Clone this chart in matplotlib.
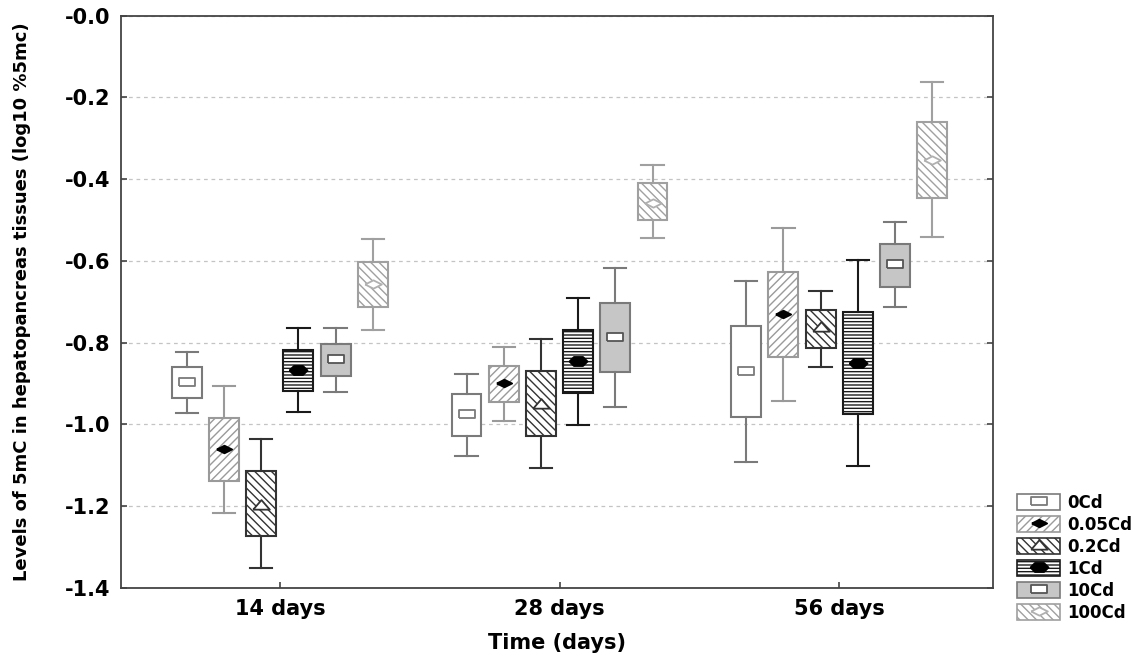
import matplotlib
matplotlib.use('Agg')
import matplotlib.pyplot as plt
from matplotlib.patches import Patch
from matplotlib.lines import Line2D

plt.rcParams['font.family'] = ['DejaVu Sans']
plt.rcParams['font.weight'] = 'bold'
plt.rcParams['hatch.linewidth'] = 1.0

# data (log10 %5mC)
days = ['14 days', '28 days', '56 days']
groups = ['0Cd', '0.05Cd', '0.2Cd', '1Cd', '10Cd', '100Cd']

med = {
    '0Cd':    [-0.897, -0.975, -0.868],
    '0.05Cd': [-1.061, -0.899, -0.730],
    '0.2Cd':  [-1.197, -0.951, -0.762],
    '1Cd':    [-0.867, -0.845, -0.850],
    '10Cd':   [-0.840, -0.787, -0.608],
    '100Cd':  [-0.656, -0.457, -0.353],
}
q1 = {
    '0Cd':    [-0.935, -1.027, -0.982],
    '0.05Cd': [-1.138, -0.946, -0.836],
    '0.2Cd':  [-1.273, -1.027, -0.814],
    '1Cd':    [-0.918, -0.923, -0.975],
    '10Cd':   [-0.881, -0.872, -0.663],
    '100Cd':  [-0.713, -0.500, -0.446],
}
q3 = {
    '0Cd':    [-0.859, -0.926, -0.758],
    '0.05Cd': [-0.985, -0.856, -0.626],
    '0.2Cd':  [-1.113, -0.870, -0.721],
    '1Cd':    [-0.818, -0.770, -0.724],
    '10Cd':   [-0.803, -0.702, -0.559],
    '100Cd':  [-0.602, -0.410, -0.259],
}
lo = {
    '0Cd':    [-0.973, -1.077, -1.091],
    '0.05Cd': [-1.217, -0.991, -0.943],
    '0.2Cd':  [-1.352, -1.106, -0.859],
    '1Cd':    [-0.969, -1.001, -1.101],
    '10Cd':   [-0.921, -0.957, -0.713],
    '100Cd':  [-0.769, -0.545, -0.541],
}
hi = {
    '0Cd':    [-0.822, -0.876, -0.649],
    '0.05Cd': [-0.906, -0.811, -0.520],
    '0.2Cd':  [-1.036, -0.792, -0.674],
    '1Cd':    [-0.764, -0.691, -0.598],
    '10Cd':   [-0.764, -0.618, -0.505],
    '100Cd':  [-0.546, -0.365, -0.163],
}

yticks = [0.0, -0.2, -0.4, -0.6, -0.8, -1.0, -1.2, -1.4]
ytick_labels = ['-0.0', '-0.2', '-0.4', '-0.6', '-0.8', '-1.0', '-1.2', '-1.4']

# marker shapes
rect = [(-1, -0.45), (1, -0.45), (1, 0.45), (-1, 0.45), (-1, -0.45)]
diam = [(-1, 0), (0, 0.5), (1, 0), (0, -0.5), (-1, 0)]
tri = [(-1, -0.5), (1, -0.5), (0, 0.65), (-1, -0.5)]
hexa = [(-1, 0), (-0.5, 0.5), (0.5, 0.5), (1, 0), (0.5, -0.5), (-0.5, -0.5), (-1, 0)]

# style per group: face, edge/hatch colour, hatch, marker, marker size, marker face, marker edge
styles = {
    '0Cd':    dict(fc='white', ec='#7a7a7a', hatch=None, m=rect, ms=12, mfc='white', mec='#7a7a7a'),
    '0.05Cd': dict(fc='white', ec='#9a9a9a', hatch='////', m=diam, ms=11, mfc='black', mec='black'),
    '0.2Cd':  dict(fc='white', ec='#333333', hatch='\\\\\\\\', m=tri, ms=12, mfc='white', mec='#333333'),
    '1Cd':    dict(fc='white', ec='#1a1a1a', hatch='-----', m=hexa, ms=13, mfc='black', mec='black'),
    '10Cd':   dict(fc='#c6c6c6', ec='#7a7a7a', hatch=None, m=rect, ms=12, mfc='white', mec='#555555'),
    '100Cd':  dict(fc='white', ec='#a0a0a0', hatch='\\\\\\\\', m=diam, ms=12, mfc='white', mec='#b0b0b0'),
}

fig = plt.figure(figsize=(11.43, 6.58), dpi=100)
ax = fig.add_axes([121 / 1143, 1 - 588 / 658, 872 / 1143, 572.3 / 658])

step = 0.133
width = 0.107
handles = []
for i, g in enumerate(groups):
    s = styles[g]
    pos = [d + 1 + (i - 2.5) * step for d in range(len(days))]
    stats = [dict(med=med[g][k], q1=q1[g][k], q3=q3[g][k],
                  whislo=lo[g][k], whishi=hi[g][k], fliers=[])
             for k in range(len(days))]
    bp = ax.bxp(stats, positions=pos, widths=width, capwidths=0.08,
                patch_artist=True, showfliers=False, manage_ticks=False,
                boxprops=dict(facecolor=s['fc'], edgecolor=s['ec'], linewidth=1.5),
                whiskerprops=dict(color=s['ec'], linewidth=1.5),
                capprops=dict(color=s['ec'], linewidth=1.5),
                medianprops=dict(visible=False))
    for b in bp['boxes']:
        if s['hatch']:
            b.set_hatch(s['hatch'])
        b.set_zorder(2)
    ax.plot(pos, med[g], linestyle='none', marker=s['m'], markersize=s['ms'],
            markerfacecolor=s['mfc'], markeredgecolor=s['mec'], markeredgewidth=1.3,
            zorder=3)
    handles.append((Patch(facecolor=s['fc'], edgecolor=s['ec'], hatch=s['hatch'], linewidth=1.2),
                    Line2D([], [], linestyle='none', marker=s['m'], markersize=s['ms'],
                           markerfacecolor=s['mfc'], markeredgecolor=s['mec'], markeredgewidth=1.3)))

ax.set_xlim(0.432, 3.55)
ax.set_ylim(-1.4, 0.0)
ax.set_xticks([1, 2, 3])
ax.set_xticklabels(days, fontsize=15, fontweight='bold')
ax.set_yticks(yticks)
ax.set_yticklabels(ytick_labels, fontsize=15, fontweight='bold')
ax.tick_params(axis='x', direction='in', length=4, width=1.2, color='#444444', pad=8, top=False)
ax.tick_params(axis='y', direction='in', length=4, width=1.2, color='#444444', pad=8,
               left=True, right=True)
ax.yaxis.grid(True, color='#c4c4c4', linestyle=(0, (3, 3)), linewidth=0.9)
ax.set_axisbelow(True)
for sp in ax.spines.values():
    sp.set_color('#444444')
    sp.set_linewidth(1.3)

ax.set_xlabel('Time (days)', fontsize=15, fontweight='bold', labelpad=10)
ax.set_ylabel('Levels of 5mC in hepatopancreas tissues (log10 %5mc)', fontsize=13,
              fontweight='bold', labelpad=24)

fig.legend(handles, groups, loc='lower left', bbox_to_anchor=(1017 / 1143, 1 - 622 / 658),
           frameon=False, fontsize=12, borderpad=0, borderaxespad=0,
           handlelength=2.6, handleheight=1.1, handletextpad=0.4, labelspacing=0.24)

fig.savefig('out.png', dpi=100)
